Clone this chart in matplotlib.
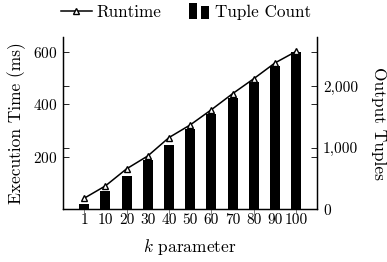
import matplotlib
matplotlib.use("Agg")
from matplotlib import pyplot as plt
from matplotlib.patches import Rectangle
from matplotlib.legend_handler import HandlerBase

plt.rcParams['font.family'] = ['cmr10', 'DejaVu Serif']
plt.rcParams['mathtext.fontset'] = 'cm'
plt.rcParams['axes.formatter.use_mathtext'] = True

# data
k_labels = ["1", "10", "20", "30", "40", "50", "60", "70", "80", "90", "100"]
runtime_ms = [43, 90, 155, 204, 274, 322, 380, 441, 498, 558, 602]
tuple_count = [95, 300, 550, 805, 1040, 1310, 1550, 1810, 2070, 2325, 2560]

left_ticks = [200, 400, 600]
right_ticks = [0, 1000, 2000]
right_tick_labels = ["0", "1,000", "2,000"]


class TwoBars(HandlerBase):
    def create_artists(self, legend, orig, xd, yd, w, h, fs, trans):
        r1 = Rectangle((xd + w * 0.34, yd - h * 0.15), w * 0.27, h * 1.3, fc='black', ec='none', transform=trans)
        r2 = Rectangle((xd + w * 0.72, yd - h * 0.15), w * 0.27, h * 1.05, fc='black', ec='none', transform=trans)
        return [r1, r2]


fig = plt.figure(figsize=(3.87, 2.62), dpi=100)
ax = fig.add_axes([0.163, 0.2004, 0.657, 0.6586])
ax2 = ax.twinx()

x = list(range(len(k_labels)))

bars = ax2.bar(x, tuple_count, width=0.47, color='black', zorder=2)
line, = ax.plot(x, runtime_ms, color='black', lw=1.1, marker='^', ms=5,
                mfc='white', mec='black', mew=1.0, zorder=3)

ax.set_zorder(ax2.get_zorder() + 1)
ax.patch.set_visible(False)

ax.set_xlim(-1, 11)
ax.set_ylim(0, 657)
ax2.set_ylim(0, 2804)

ax.set_xticks(x)
ax.set_xticklabels(k_labels)
ax.set_yticks(left_ticks)
ax2.set_yticks(right_ticks)
ax2.set_yticklabels(right_tick_labels)

for a in (ax, ax2):
    a.spines['top'].set_visible(False)
    for s in a.spines.values():
        s.set_linewidth(0.9)

ax.tick_params(axis='y', direction='in', left=True, right=True, length=4.5, width=0.6,
               labelsize=11, pad=4)
ax2.tick_params(axis='y', direction='in', left=True, right=True, length=4.5, width=0.6,
                labelsize=11, pad=4)
ax.tick_params(axis='x', length=0, labelsize=11, pad=3)

# tick marks at every other category below the axis
for i in x[::2]:
    ax.plot([i, i], [0, -0.025], transform=ax.get_xaxis_transform(), color='0.4',
            lw=0.6, clip_on=False)

ax.set_ylabel("Execution Time (ms)", fontsize=12.5, labelpad=5)
ax2.set_ylabel("Output Tuples", fontsize=12.5, rotation=-90, labelpad=20)
ax.set_xlabel("$k$ parameter", fontsize=12.5, labelpad=7)

fig.legend([line, bars], ["Runtime", "Tuple Count"], loc='center', bbox_to_anchor=(0.48, 0.954),
           ncol=2, frameon=False, fontsize=12.3, handlelength=1.8, handletextpad=0.3,
           columnspacing=1.0, markerscale=0.8, handler_map={type(bars): TwoBars()})

fig.savefig("out.png", dpi=100)
